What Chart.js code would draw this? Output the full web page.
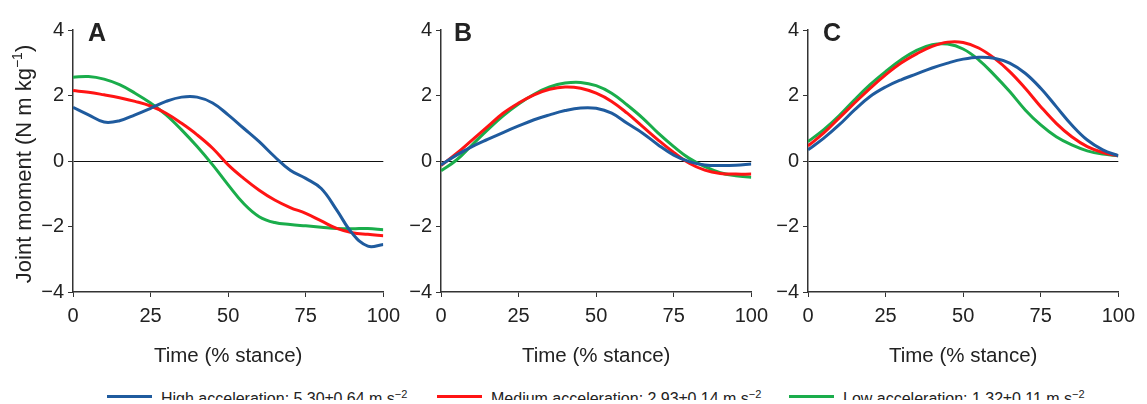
<!DOCTYPE html>
<html>
<head>
<meta charset="utf-8">
<script src="https://cdn.jsdelivr.net/npm/chart.js@4.4.1/dist/chart.umd.min.js"></script>
<style>
  html, body { margin: 0; padding: 0; background: #fff; }
  body { width: 1147px; height: 404px; position: relative; overflow: hidden; font-family: "Liberation Sans", Arial, sans-serif; }
  .panel { position: absolute; top: 0; height: 380px; }
  #legend { position: absolute; left: 0; top: 384px; width: 1147px; height: 16px; overflow: hidden; }
  .item { position: absolute; top: 0; font-size: 16px; line-height: 16px; color: #222; white-space: nowrap; }
  .swatch { position: absolute; top: 11px; height: 3px; width: 45px; }
  .item sup { font-size: 11px; line-height: 0; }
</style>
</head>
<body>
<div class="panel" style="left:0;width:407px"><canvas id="cA"></canvas></div>
<div class="panel" style="left:400px;width:375px"><canvas id="cB"></canvas></div>
<div class="panel" style="left:768px;width:374px"><canvas id="cC"></canvas></div>
<div id="legend"></div>

<script>
// time axis, % stance
const TIME = [0, 5, 10, 15, 20, 25, 30, 35, 40, 45, 50, 55, 60, 65, 70, 75, 80, 85, 90, 95, 100];
const X_TICKS = [0, 25, 50, 75, 100];
const Y_TICKS = [-4, -2, 0, 2, 4];

// panel A
const A_HIGH = [1.64, 1.41, 1.19, 1.23, 1.41, 1.61, 1.82, 1.95, 1.95, 1.77, 1.41, 1.0, 0.59, 0.13, -0.28, -0.53, -0.84, -1.5, -2.21, -2.6, -2.55];
const A_MED  = [2.15, 2.1, 2.02, 1.93, 1.82, 1.68, 1.46, 1.15, 0.8, 0.39, -0.12, -0.53, -0.89, -1.19, -1.42, -1.6, -1.83, -2.06, -2.19, -2.24, -2.28];
const A_LOW  = [2.56, 2.58, 2.5, 2.33, 2.07, 1.77, 1.41, 0.95, 0.44, -0.12, -0.73, -1.3, -1.7, -1.88, -1.94, -1.98, -2.02, -2.06, -2.07, -2.06, -2.1];

// panel B
const B_HIGH = [-0.12, 0.18, 0.44, 0.66, 0.87, 1.07, 1.26, 1.41, 1.54, 1.62, 1.61, 1.46, 1.15, 0.85, 0.49, 0.18, -0.02, -0.12, -0.14, -0.13, -0.09];
const B_MED  = [-0.14, 0.23, 0.64, 1.05, 1.46, 1.77, 2.02, 2.19, 2.26, 2.22, 2.07, 1.82, 1.46, 1.05, 0.64, 0.26, -0.07, -0.28, -0.38, -0.4, -0.4];
const B_LOW  = [-0.3, 0.03, 0.49, 0.95, 1.38, 1.74, 2.04, 2.26, 2.38, 2.4, 2.3, 2.07, 1.71, 1.31, 0.85, 0.44, 0.08, -0.17, -0.36, -0.45, -0.5];

// panel C
const C_HIGH = [0.34, 0.69, 1.1, 1.56, 1.97, 2.26, 2.48, 2.66, 2.84, 2.99, 3.11, 3.17, 3.14, 2.99, 2.68, 2.22, 1.66, 1.1, 0.64, 0.34, 0.16];
const C_MED  = [0.46, 0.85, 1.31, 1.77, 2.22, 2.63, 2.99, 3.27, 3.5, 3.63, 3.62, 3.45, 3.14, 2.73, 2.22, 1.66, 1.15, 0.74, 0.44, 0.26, 0.16];
const C_LOW  = [0.59, 0.95, 1.38, 1.87, 2.33, 2.73, 3.09, 3.38, 3.55, 3.57, 3.42, 3.09, 2.63, 2.12, 1.56, 1.1, 0.74, 0.49, 0.31, 0.21, 0.16];

const SERIES_NAMES = ['High acceleration: 5.30±0.64 m s', 'Medium acceleration: 2.93±0.14 m s', 'Low acceleration: 1.32±0.11 m s'];
const COLORS = ['#1f5b9e', '#ff1414', '#1aad4b'];

const FONT = "'Liberation Sans', Arial, sans-serif";
const AXIS = '#333';

// bold panel letter, plus the y title with a real superscript on panel A
const panelDecor = {
  id: 'panelDecor',
  afterDraw(chart, args, opts) {
    const { ctx, chartArea } = chart;
    ctx.save();
    ctx.font = `bold 25px ${FONT}`;
    ctx.fillStyle = '#222';
    ctx.textBaseline = 'alphabetic';
    ctx.fillText(opts.text, chartArea.left + opts.dx, 41);

    if (opts.yTitle) {
      const main = 'Joint moment (N m kg';
      const sup = '\u22121';
      const tail = ')';
      const fMain = `22px ${FONT}`;
      const fSup = `14px ${FONT}`;
      ctx.font = fMain;
      const wMain = ctx.measureText(main).width;
      const wTail = ctx.measureText(tail).width;
      ctx.font = fSup;
      const wSup = ctx.measureText(sup).width;
      const total = wMain + wSup + wTail;
      const cy = (chartArea.top + chartArea.bottom) / 2 + 3;
      ctx.translate(31, cy);
      ctx.rotate(-Math.PI / 2);
      let x = -total / 2;
      ctx.font = fMain;
      ctx.fillText(main, x, 0);
      x += wMain;
      ctx.font = fSup;
      ctx.fillText(sup, x, -9);
      x += wSup;
      ctx.font = fMain;
      ctx.fillText(tail, x, 0);
    }
    ctx.restore();
  }
};

const fmt = v => (v < 0 ? '\u2212' + Math.abs(v) : String(v));

function makePanel(id, letter, dx, series, yWidth, showTitle) {
  new Chart(document.getElementById(id), {
    type: 'line',
    data: {
      labels: TIME,
      datasets: series.map((vals, i) => ({
        label: SERIES_NAMES[i],
        data: vals.map((v, j) => ({ x: TIME[j], y: v })),
        borderColor: COLORS[i],
        borderWidth: 3,
        pointRadius: 0,
        tension: 0.4,
        fill: false
      }))
    },
    options: {
      responsive: true,
      maintainAspectRatio: false,
      animation: false,
      layout: { padding: { top: 30, right: 15, bottom: 0, left: 0 } },
      plugins: {
        legend: { display: false },
        tooltip: { enabled: false },
        panelDecor: { text: letter, dx: dx, yTitle: showTitle }
      },
      scales: {
        x: {
          type: 'linear',
          min: 0,
          max: 100,
          afterBuildTicks: s => { s.ticks = X_TICKS.map(v => ({ value: v })); },
          afterFit: s => { s.height = 88; },
          border: { display: true, color: AXIS, width: 1.5 },
          grid: { drawOnChartArea: false, drawTicks: true, tickLength: 5, tickColor: AXIS },
          ticks: { color: '#222', font: { family: FONT, size: 20 }, padding: 7, maxRotation: 0 },
          title: { display: true, text: 'Time (% stance)', color: '#222', font: { family: FONT, size: 20.5 }, padding: { top: 0, bottom: 11 } }
        },
        y: {
          min: -4,
          max: 4,
          afterBuildTicks: s => { s.ticks = Y_TICKS.map(v => ({ value: v })); },
          afterFit: s => { s.width = yWidth; },
          border: { display: true, color: AXIS, width: 1.5 },
          grid: {
            drawOnChartArea: true,
            drawTicks: true,
            tickLength: 5,
            tickColor: AXIS,
            lineWidth: 1,
            color: c => (c.tick && c.tick.value === 0 ? '#111' : 'rgba(0,0,0,0)')
          },
          ticks: { color: '#222', font: { family: FONT, size: 20 }, padding: 4, callback: v => fmt(v) },
          title: { display: false }
        }
      }
    },
    plugins: [panelDecor]
  });
}

makePanel('cA', 'A', 15, [A_HIGH, A_MED, A_LOW], 73, true);
makePanel('cB', 'B', 13, [B_HIGH, B_MED, B_LOW], 41, false);
makePanel('cC', 'C', 15, [C_HIGH, C_MED, C_LOW], 40, false);

// legend along the bottom edge, cut off like the original
const LEGEND_X = [107, 437, 789];
document.getElementById('legend').innerHTML = SERIES_NAMES.map((name, i) => `
  <div class="swatch" style="left:${LEGEND_X[i]}px;background:${COLORS[i]}"></div>
  <div class="item" style="left:${LEGEND_X[i] + 54}px;top:7px">${name}<sup>\u22122</sup></div>
`).join('');
</script>
</body>
</html>
